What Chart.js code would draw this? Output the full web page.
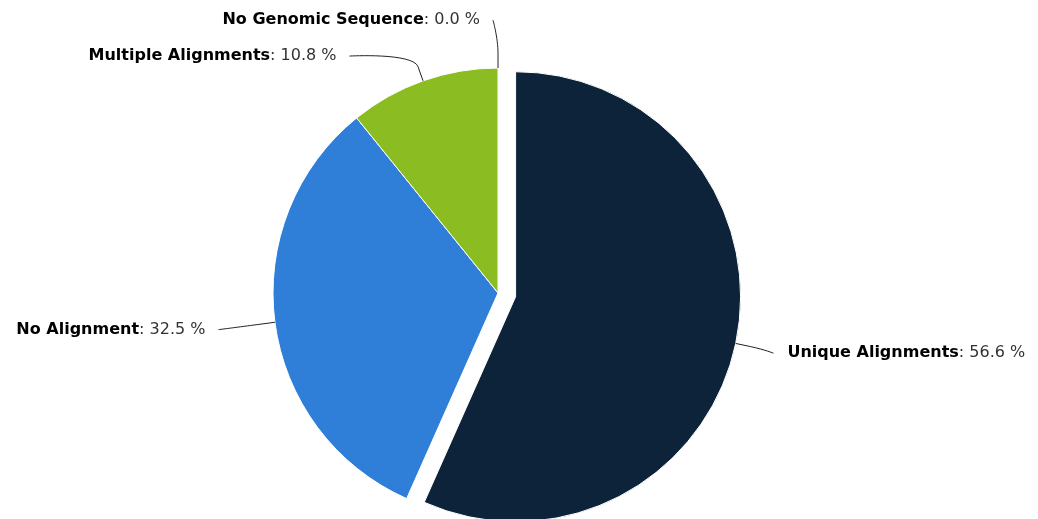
<!DOCTYPE html>
<html>
<head>
<meta charset="utf-8">
<title>Alignment summary</title>
<script src="https://cdn.jsdelivr.net/npm/chart.js@4"></script>
<style>
  html, body { margin: 0; padding: 0; background: #ffffff; }
  .chart-wrap { position: relative; width: 1038px; height: 519px; }
</style>
</head>
<body>
<div class="chart-wrap">
  <canvas id="alignChart"></canvas>
</div>
<script>
// Read alignment categories and their share of reads (%)
const categories = ["Unique Alignments", "No Alignment", "Multiple Alignments", "No Genomic Sequence"]
const percentages = [56.6, 32.5, 10.8, 0.0]
const sliceColors = ["#0d233a", "#2f7ed8", "#8bbc21", "#910000"]

// The first slice is pulled out of the pie
const explodedIndex = 0
const explodeDistance = 18

const pieRadius = 225
const labelDistance = 30
const labelFont = '"DejaVu Sans", Verdana, sans-serif'
const labelSize = 16

// Shift the exploded arc along its mid angle once the layout is done
const explodePlugin = {
  id: "explodeSlice",
  afterDatasetUpdate(chart, args) {
    const arc = args.meta.data[explodedIndex]
    if (!arc) return
    const mid = (arc.startAngle + arc.endAngle) / 2
    arc.x += Math.cos(mid) * explodeDistance
    arc.y += Math.sin(mid) * explodeDistance
  },
}

// Outside labels with soft connectors
const outsideLabels = {
  id: "outsideLabels",
  afterDatasetsDraw(chart) {
    const ctx = chart.ctx
    const area = chart.chartArea
    const cx = (area.left + area.right) / 2
    const cy = (area.top + area.bottom) / 2
    const arcs = chart.getDatasetMeta(0).data

    const items = arcs.map((arc, i) => {
      const mid = (arc.startAngle + arc.endAngle) / 2
      const r = arc.outerRadius
      const dx = Math.cos(mid)
      const dy = Math.sin(mid)
      const y = arc.y + dy * (r + labelDistance) + 3.5
      return {
        i,
        left: dx < 0,
        edge: { x: arc.x + dx * r, y: arc.y + dy * r },
        brk: { x: arc.x + dx * (r + labelDistance / 2), y: arc.y + dy * (r + labelDistance / 2) },
        y,
        natural: y,
        r,
      }
    })

    // push overlapping labels upward, side by side
    const minGap = 36
    ;[true, false].forEach((side) => {
      const group = items.filter((it) => it.left === side).sort((a, b) => b.y - a.y)
      let prev = Infinity
      group.forEach((it) => {
        it.y = Math.min(it.y, prev - minGap)
        prev = it.y
      })
    })

    ctx.save()
    items.forEach((it) => {
      const sign = it.left ? -1 : 1
      let gx
      if (it.y < it.natural - 1) {
        // pushed label hangs straight above its connector
        gx = it.brk.x
      } else {
        const R = it.r + 52
        const ry = Math.max(-1, Math.min(1, (it.y - cy) / R))
        gx = cx + sign * Math.cos(Math.asin(ry)) * R
      }
      const p0 = { x: gx + sign * 5, y: it.y }

      // connector
      ctx.beginPath()
      ctx.moveTo(p0.x, p0.y)
      ctx.bezierCurveTo(p0.x, p0.y, 2 * it.brk.x - it.edge.x, 2 * it.brk.y - it.edge.y, it.brk.x, it.brk.y)
      ctx.lineTo(it.edge.x, it.edge.y)
      ctx.strokeStyle = "#222222"
      ctx.lineWidth = 1
      ctx.stroke()

      // text: bold name, regular value
      const name = categories[it.i]
      const value = ": " + percentages[it.i].toFixed(1) + " %"
      ctx.font = "bold " + labelSize + "px " + labelFont
      const wName = ctx.measureText(name).width
      ctx.font = labelSize + "px " + labelFont
      const wValue = ctx.measureText(value).width
      const x = it.left ? p0.x - 13 - wName - wValue : p0.x + 14
      ctx.textBaseline = "middle"
      ctx.textAlign = "left"
      ctx.fillStyle = "#000000"
      ctx.font = "bold " + labelSize + "px " + labelFont
      ctx.fillText(name, x, it.y)
      ctx.fillStyle = "#333333"
      ctx.font = labelSize + "px " + labelFont
      ctx.fillText(value, x + wName, it.y)
    })
    ctx.restore()
  },
}

const alignCtx = document.getElementById("alignChart").getContext("2d")

new Chart(alignCtx, {
  type: "pie",
  data: {
    labels: categories,
    datasets: [
      {
        data: percentages,
        backgroundColor: sliceColors,
        borderColor: "#ffffff",
        borderWidth: 1,
        hoverOffset: 0,
      },
    ],
  },
  options: {
    responsive: true,
    maintainAspectRatio: false,
    animation: false,
    radius: pieRadius,
    layout: {
      padding: { top: 67, bottom: 0, left: 0, right: 42 },
    },
    plugins: {
      legend: { display: false },
      tooltip: { enabled: false },
    },
    events: [],
  },
  plugins: [explodePlugin, outsideLabels],
})
</script>
</body>
</html>
